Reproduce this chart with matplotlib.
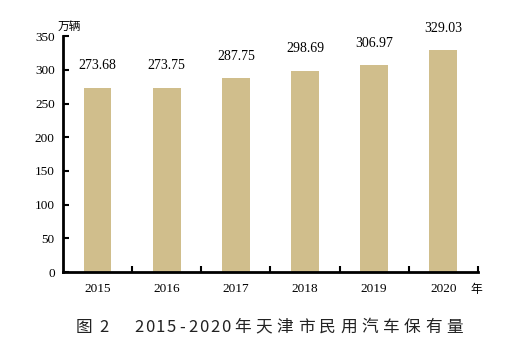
import matplotlib
matplotlib.use("Agg")
import matplotlib.pyplot as plt

years = ["2015", "2016", "2017", "2018", "2019", "2020"]
values = [273.68, 273.75, 287.75, 298.69, 306.97, 329.03]
y_ticks = [0, 50, 100, 150, 200, 250, 300, 350]

serif = ["Liberation Serif", "DejaVu Serif"]
cjk = ["Noto Sans CJK SC", "DejaVu Sans"]

W, H = 521, 351
fig = plt.figure(figsize=(W / 100, H / 100), dpi=100)
ax = fig.add_axes([0.121, 0.225, 0.796, 0.672])

x = list(range(len(years)))
ax.bar(x, values, width=0.4, color="#d0be8c", edgecolor="none")

for xi, v in zip(x, values):
    ax.annotate(f"{v:.2f}", (xi, v), xytext=(0, 11), textcoords="offset points",
                ha="center", va="bottom", fontsize=10, family=serif)

ax.set_xlim(-0.5, 5.5)
ax.set_ylim(0, 350)
ax.set_yticks(y_ticks)
ax.set_yticklabels([str(t) for t in y_ticks], family=serif, fontsize=9.5)
ax.set_xticks([i + 0.5 for i in x])
ax.set_xticklabels([])
ax.set_xticks(x, minor=True)
ax.set_xticklabels(years, minor=True, family=serif, fontsize=9.5)
ax.tick_params(axis="x", which="major", direction="in", length=4, width=1.5)
ax.tick_params(axis="x", which="minor", length=0, pad=8)
ax.tick_params(axis="y", direction="in", length=4, width=1.5, pad=6)

for s in ["top", "right"]:
    ax.spines[s].set_visible(False)
for s in ["left", "bottom"]:
    ax.spines[s].set_linewidth(2)

fig.text(0.111, 0.925, "万辆", family=cjk, fontsize=8.5, ha="left", va="center")
fig.text(0.903, 0.175, "年", family=cjk, fontsize=8.5, ha="left", va="center")

# Caption, with wide letter spacing as in the reference
cap_y = 0.068
fs = 12
def put(txt, px):
    fig.text(px / W, cap_y, txt, family=cjk, fontsize=fs, ha="center", va="center",
             color="#222222")

put("图", 84)
put("2", 104)
for i, ch in enumerate("2015-2020"):
    put(ch, 139 + 10.8 * i)
for i, ch in enumerate("年天津市民用汽车保有量"):
    put(ch, 242.5 + 21.2 * i)

fig.savefig("out.png", dpi=100)
